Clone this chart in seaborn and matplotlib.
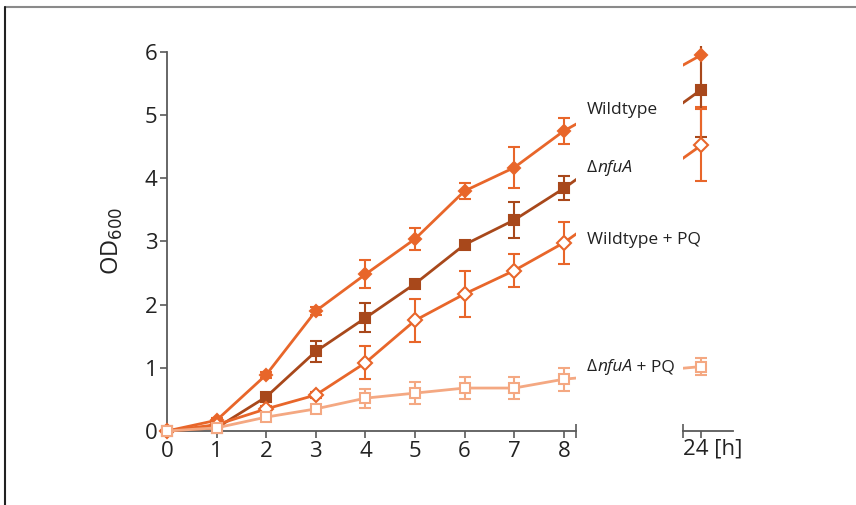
import numpy as np
import pandas as pd
import seaborn as sns
import matplotlib
matplotlib.use("Agg")
import matplotlib.pyplot as plt
from matplotlib.lines import Line2D

# ---------------- data ----------------
hours = [0, 1, 2, 3, 4, 5, 6, 7, 8]
late_hour = 24

wt = [0.0, 0.17, 0.89, 1.90, 2.48, 3.04, 3.80, 4.17, 4.75]
wt_err = [0.0, 0.03, 0.05, 0.06, 0.22, 0.17, 0.13, 0.33, 0.20]
wt_24 = 5.95
wt_24_err = 0.82

dnfua = [0.0, 0.05, 0.54, 1.26, 1.79, 2.33, 2.95, 3.34, 3.84]
dnfua_err = [0.0, 0.02, 0.05, 0.17, 0.23, 0.05, 0.04, 0.29, 0.19]
dnfua_24 = 5.40
dnfua_24_err = 0.75

wtpq = [0.0, 0.10, 0.35, 0.57, 1.08, 1.75, 2.17, 2.54, 2.98]
wtpq_err = [0.0, 0.02, 0.05, 0.05, 0.26, 0.34, 0.36, 0.26, 0.33]
wtpq_24 = 4.52
wtpq_24_err = 0.57

dnfuapq = [0.0, 0.05, 0.22, 0.35, 0.52, 0.60, 0.68, 0.68, 0.82]
dnfuapq_err = [0.0, 0.02, 0.05, 0.05, 0.15, 0.17, 0.18, 0.18, 0.18]
dnfuapq_24 = 1.02
dnfuapq_24_err = 0.14

# label pieces: (text, italic)
labels = [
    [("Wildtype", False)],
    [("Δ", False), ("nfuA", True)],
    [("Wildtype + PQ", False)],
    [("Δ", False), ("nfuA", True), (" + PQ", False)],
]
yticks = [0, 1, 2, 3, 4, 5, 6]
xticks = [0, 1, 2, 3, 4, 5, 6, 7, 8]

# ---------------- style ----------------
sns.set_theme(style="white")
plt.rcParams["font.family"] = ["Open Sans", "DejaVu Sans"]

ORANGE = "#E8662A"
BROWN = "#A8481B"
LIGHT = "#F4A882"
SPINE = "#5a5a5a"
TEXT = "#222222"

series = [
    dict(y=wt, e=wt_err, y24=wt_24, e24=wt_24_err, color=ORANGE, marker="D", ms=6.5, fill=True),
    dict(y=dnfua, e=dnfua_err, y24=dnfua_24, e24=dnfua_24_err, color=BROWN, marker="s", ms=7.5, fill=True),
    dict(y=wtpq, e=wtpq_err, y24=wtpq_24, e24=wtpq_24_err, color=ORANGE, marker="D", ms=7, fill=False),
    dict(y=dnfuapq, e=dnfuapq_err, y24=dnfuapq_24, e24=dnfuapq_24_err, color=LIGHT, marker="s", ms=7.5, fill=False),
]

W, H = 856, 505
fig = plt.figure(figsize=(W / 100, H / 100), dpi=100)

# layout (pixels)
x0_px, px_per_x = 167.0, 49.6
y0_px, px_per_y = 431.0, 63.17
XL = (-0.3, 8.25)
YL = (-0.2, 6.1)
BREAK = (701 - 564) / px_per_x  # virtual gap between 8 h and 24 h

def box(xl, left_px):
    left = left_px
    width = (xl[1] - xl[0]) * px_per_x
    top = y0_px - YL[1] * px_per_y
    bottom = y0_px - YL[0] * px_per_y
    return [left / W, 1 - bottom / H, width / W, (bottom - top) / H]

ax = fig.add_axes(box(XL, x0_px + XL[0] * px_per_x))
XR = (late_hour - (701 - 683) / px_per_x, late_hour + (733 - 701) / px_per_x)
ax2 = fig.add_axes(box(XR, 683))

for a, xl in ((ax, XL), (ax2, XR)):
    a.set_xlim(*xl)
    a.set_ylim(*YL)
    a.set_facecolor("none")
    a.grid(False)

# ---------------- plotting ----------------
for i, s in enumerate(series):
    df = pd.DataFrame({"h": hours, "od": s["y"]})
    face = s["color"] if s["fill"] else "white"
    ax.errorbar(hours, s["y"], yerr=s["e"], fmt="none", ecolor=s["color"],
                elinewidth=1.5, capsize=4, capthick=1.5, zorder=2 + i * 0.1)
    sns.lineplot(data=df, x="h", y="od", ax=ax, color=s["color"], linewidth=2,
                 marker=s["marker"], markersize=s["ms"], markerfacecolor=face,
                 markeredgecolor=s["color"], markeredgewidth=1.5,
                 zorder=3 + i * 0.1, clip_on=False)
    # continuation toward the 24 h point (broken axis)
    ax.plot([hours[-1], hours[-1] + BREAK], [s["y"][-1], s["y24"]],
            color=s["color"], linewidth=2, zorder=2.5)
    ax2.plot([late_hour - BREAK, late_hour], [s["y"][-1], s["y24"]],
             color=s["color"], linewidth=2, zorder=2.5)
    ax2.errorbar([late_hour], [s["y24"]], yerr=[s["e24"]], fmt="none", ecolor=s["color"],
                 elinewidth=1.5, capsize=4, capthick=1.5, zorder=2 + i * 0.1)
    ax2.plot([late_hour], [s["y24"]], linestyle="none", marker=s["marker"],
             markersize=s["ms"], markerfacecolor=face, markeredgecolor=s["color"],
             markeredgewidth=1.5, zorder=3 + i * 0.1, clip_on=False)

ax.set_xlabel("")
ax.set_ylabel("")

# ---------------- axes styling ----------------
for a in (ax, ax2):
    for side in ("top", "right"):
        a.spines[side].set_visible(False)
    a.spines["bottom"].set_position(("data", 0))
    a.spines["bottom"].set_color(SPINE)
    a.spines["bottom"].set_linewidth(1.3)

ax.spines["left"].set_position(("data", 0))
ax.spines["left"].set_bounds(0, 6)
ax.spines["left"].set_color(SPINE)
ax.spines["left"].set_linewidth(1.3)
ax.spines["bottom"].set_bounds(0, XL[1])
ax2.spines["left"].set_visible(False)

ax.set_xticks(xticks)
ax.set_xticklabels([str(t) for t in xticks])
ax.set_yticks(yticks)
ax.set_yticklabels([str(t) for t in yticks])
ax.set_xticks([XL[1]], minor=True)
ax.tick_params(axis="both", which="major", direction="out", length=5, width=1.2,
               color=SPINE, labelsize=16, labelcolor=TEXT, pad=2,
               bottom=True, left=True)
ax.tick_params(axis="x", which="minor", direction="inout", length=10, width=1.2,
               color=SPINE, bottom=True)

ax2.set_yticks([])
ax2.set_xticks([late_hour])
ax2.set_xticklabels([""])
ax2.set_xticks([XR[0]], minor=True)
ax2.tick_params(axis="x", which="major", direction="out", length=5, width=1.2,
                color=SPINE, bottom=True)
ax2.tick_params(axis="x", which="minor", direction="inout", length=10, width=1.2,
                color=SPINE, bottom=True)
ax2.text(XR[0], -0.12, "24 [h]", ha="left", va="top", fontsize=16, color=TEXT)

ax.set_ylabel("OD$_{600}$", fontsize=17, color=TEXT)
ax.yaxis.set_label_coords(-0.065, 0.51)

# series labels (pieces chained so italics stay in the same font)
label_x = 8.47
label_y = [5.08, 4.16, 3.02, 1.01]
for pieces, ly in zip(labels, label_y):
    prev = None
    for txt, ital in pieces:
        style = "italic" if ital else "normal"
        if prev is None:
            prev = ax.text(label_x, ly, txt, ha="left", va="center", fontsize=12.5,
                           color=TEXT, style=style, clip_on=False)
        else:
            prev = ax.annotate(txt, xy=(1, 0), xycoords=prev, ha="left", va="bottom",
                               fontsize=12.5, color=TEXT, style=style,
                               annotation_clip=False)

# frame lines
fig.add_artist(Line2D([5 / W, 1], [1 - 7 / H, 1 - 7 / H], color="#8a8a8a", linewidth=1.5))
fig.add_artist(Line2D([5 / W, 5 / W], [0, 1 - 7 / H], color="#222222", linewidth=1.5))

fig.savefig("out.png", dpi=100, facecolor="white")
